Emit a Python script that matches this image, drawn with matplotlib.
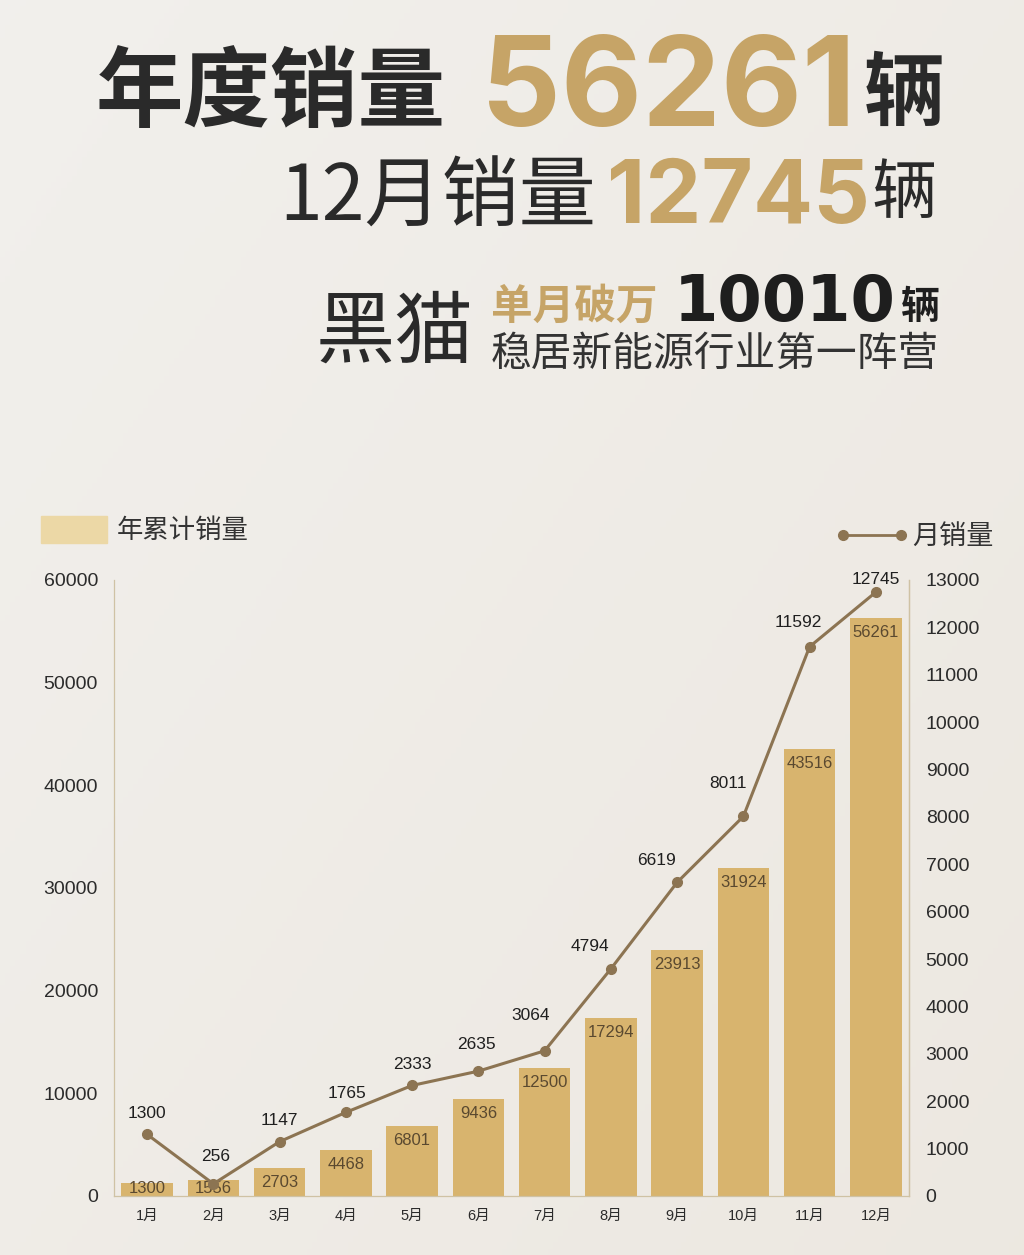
import numpy as np
import matplotlib
matplotlib.use("Agg")
import matplotlib.pyplot as plt
from matplotlib.lines import Line2D

plt.rcParams['font.family'] = ['Liberation Sans', 'Noto Sans CJK SC', 'DejaVu Sans']

# ---------------- data ----------------
months = ['1月', '2月', '3月', '4月', '5月', '6月', '7月', '8月', '9月', '10月', '11月', '12月']
cumulative = [1300, 1556, 2703, 4468, 6801, 9436, 12500, 17294, 23913, 31924, 43516, 56261]
monthly = [1300, 256, 1147, 1765, 2333, 2635, 3064, 4794, 6619, 8011, 11592, 12745]
left_ticks = [0, 10000, 20000, 30000, 40000, 50000, 60000]
right_ticks = list(range(0, 13001, 1000))

# label nudges (pixels) for the monthly line labels
lab_dx = [0, 2, 0, 1, 0, -2, -14, -21, -21, -15, -11, 0]
lab_dy = [21, 27, 21, 19, 21, 27, 35, 22, 22, 33, 24, 13]

W, H = 1024, 1255
fig = plt.figure(figsize=(W / 100, H / 100), dpi=100)

def fx(px):
    return px / W

def fy(py):
    return 1 - py / H

# ---------------- background ----------------
bg = fig.add_axes([0, 0, 1, 1], zorder=-10)
yy, xx = np.mgrid[0:1:200j, 0:1:200j]
base = np.array([0.947, 0.940, 0.926])
warm = np.array([0.928, 0.910, 0.882])
t = np.clip(0.55 * xx + 0.45 * yy, 0, 1)[..., None]
img = base * (1 - t) + warm * t
bg.imshow(img, extent=[0, 1, 0, 1], aspect='auto', origin='upper')
bg.set_axis_off()

# ---------------- titles ----------------
dark = '#2a2a2a'
gold = '#c6a467'
cjk = ['Noto Sans CJK SC', 'DejaVu Sans']
num = ['Inter', 'Liberation Sans', 'DejaVu Sans']

fig.text(fx(446), fy(120), '年度销量', family=cjk, weight='bold', fontsize=63,
         color=dark, ha='right', va='baseline')
fig.text(fx(856), fy(126), '56261', family=num, weight='bold', fontsize=90,
         color=gold, ha='right', va='baseline')
fig.text(fx(944), fy(119), '辆', family=cjk, weight='bold', fontsize=58,
         color=dark, ha='right', va='baseline')

fig.text(fx(596), fy(221), '12月销量', family=cjk, weight='normal', fontsize=55.5,
         color=dark, ha='right', va='baseline')
fig.text(fx(870), fy(223), '12745', family=num, weight='bold', fontsize=64,
         color=gold, ha='right', va='baseline')
fig.text(fx(937), fy(213), '辆', family=cjk, weight='normal', fontsize=47,
         color=dark, ha='right', va='baseline')

fig.text(fx(316), fy(357), '黑猫', family=cjk, weight='light', fontsize=57,
         color=dark, ha='left', va='baseline')
fig.text(fx(491), fy(319), '单月破万', family=cjk, weight='bold', fontsize=30,
         color=gold, ha='left', va='baseline')
fig.text(fx(896), fy(321), '10010', family=['DejaVu Sans'],
         weight='bold', fontsize=46, color='#1e1e1e', ha='right', va='baseline')
fig.text(fx(940), fy(319), '辆', family=cjk, weight='bold', fontsize=28,
         color='#1e1e1e', ha='right', va='baseline')
fig.text(fx(491), fy(366), '稳居新能源行业第一阵营', family=cjk, weight='normal',
         fontsize=29.3, color='#333333', ha='left', va='baseline')

# ---------------- chart ----------------
ax = fig.add_axes([fx(114), 59 / H, 795 / W, 616 / H])
ax.patch.set_alpha(0)
x = np.arange(len(months))
bar_color = '#d8b46e'
line_color = '#8c7452'
bars = ax.bar(x, cumulative, width=0.78, color=bar_color, zorder=2)
ax.set_xlim(-0.5, len(months) - 0.5)
ax.set_ylim(0, 60000)
ax.set_yticks(left_ticks)
ax.set_xticks(x)
ax.set_xticklabels(months)
ax.tick_params(axis='y', length=0, pad=11.5, labelsize=14, labelcolor='#2b2b2b')
ax.tick_params(axis='x', length=0, pad=9, labelsize=10.5, labelcolor='#2b2b2b')
ax.spines['top'].set_visible(False)
for s in ['left', 'right', 'bottom']:
    ax.spines[s].set_color('#cfc2a4')
    ax.spines[s].set_linewidth(0.9)

for xi, v in zip(x, cumulative):
    ax.text(xi, max(v - 1400, 700), str(v), ha='center', va='center',
            fontsize=12, color='#5a4930', zorder=4)

ax2 = ax.twinx()
ax2.set_ylim(0, 13000)
ax2.set_yticks(right_ticks)
ax2.tick_params(axis='y', length=0, pad=12, labelsize=14, labelcolor='#2b2b2b')
for s in ['top', 'left', 'bottom']:
    ax2.spines[s].set_visible(False)
ax2.spines['right'].set_color('#cfc2a4')
ax2.spines['right'].set_linewidth(0.9)
ax2.plot(x, monthly, color=line_color, lw=2.2, marker='o', ms=7,
         markerfacecolor=line_color, markeredgecolor=line_color, zorder=3)
for xi, v, dx, dy in zip(x, monthly, lab_dx, lab_dy):
    ax2.annotate(str(v), (xi, v), xytext=(dx * 0.72, dy * 0.72),
                 textcoords='offset points', ha='center', va='center',
                 fontsize=12.5, color='#1f1f1f')

# ---------------- legends ----------------
fig.patches.append(plt.Rectangle((fx(41), fy(543)), 66 / W, 27 / H,
                                 transform=fig.transFigure, color='#ecd8a6',
                                 zorder=1))
fig.text(fx(117), fy(531), '年累计销量', family=cjk, fontsize=19, color='#333333',
         ha='left', va='center')
fig.lines.append(Line2D([fx(843), fx(901)], [fy(535), fy(535)],
                        transform=fig.transFigure, color=line_color, lw=2,
                        marker='o', ms=7, markerfacecolor=line_color,
                        markeredgecolor=line_color))
fig.text(fx(912), fy(536), '月销量', family=cjk, fontsize=19.5, color='#333333',
         ha='left', va='center')

fig.savefig('out.png', dpi=100)
